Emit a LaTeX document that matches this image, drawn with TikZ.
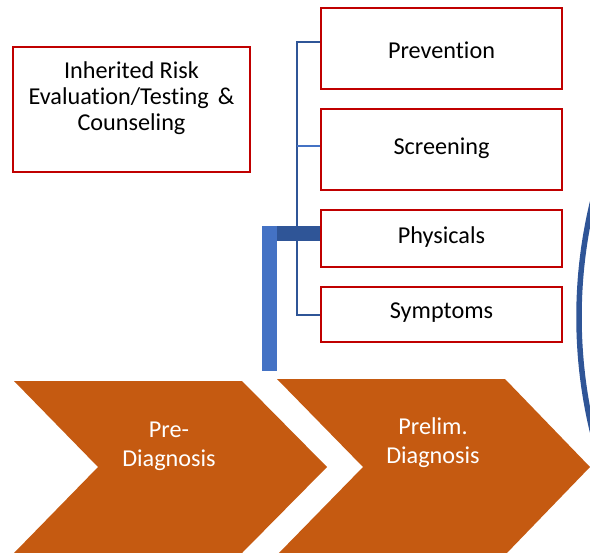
\documentclass[tikz,border=0pt]{standalone}
\usepackage{fontspec}
\setmainfont{Carlito}[Ligatures=NoCommon]
\definecolor{boxred}{HTML}{C00000}
\definecolor{chevorange}{HTML}{C55A11}
\definecolor{darkblue}{HTML}{2F5597}
\definecolor{lightblue}{HTML}{4472C4}
\tikzset{
  redbox/.style={draw=boxred, line width=2.5bp, fill=white, inner sep=0pt, minimum width=241bp},
  boxtext/.style={font=\fontsize{24.3}{26}\selectfont, align=center, text=black, inner sep=0pt},
  chevtext/.style={font=\fontsize{24.3}{29}\selectfont, align=center, text=white, inner sep=0pt},
  chevron/.style={fill=chevorange, draw=none},
  branch/.style={draw=darkblue, line width=2bp},
  branchlight/.style={draw=lightblue, line width=1.5bp},
}
\begin{document}
\begin{tikzpicture}[x=1bp, y=-1bp]
\useasboundingbox (0,0) rectangle (590,553);
% arc on the right
\begin{scope}
  \clip (0,0) rectangle (590,553);
  \draw[darkblue, line width=5.5bp] (1068,317) circle (489);
\end{scope}
% chevrons
\fill[chevron] (14,381) -- (242,381) -- (327,467) -- (242,553) -- (14,553) -- (98,467) -- cycle;
\fill[chevron] (277,379) -- (505,379) -- (590,467) -- (505,555) -- (277,555) -- (363,467) -- cycle;
\node[chevtext] (pre) at (169,446) {Pre-\\Diagnosis};
\node[chevtext] (prelim) at (433,443) {Prelim.\\Diagnosis};
% inherited risk box
\node[redbox, minimum width=237bp, minimum height=125bp] (risk) at (131.5,109.5) {};
\node[boxtext] (risktext) at (131.5,98) {Inherited Risk\\Evaluation/Testing\hspace{9bp}\&\\Counseling};
% right boxes
\node[redbox, minimum height=81bp] (prev) at (441.5,48.5) {};
\node[boxtext] at (441.5,50) {Prevention};
\node[redbox, minimum height=81bp] (scr) at (441.5,149.5) {};
\node[boxtext] at (441.5,148) {Screening};
\node[redbox, minimum height=57bp] (phys) at (441.5,238.5) {};
\node[boxtext] at (441.5,237) {Physicals};
\node[redbox, minimum height=55bp] (symp) at (441.5,314.5) {};
\node[boxtext] at (441.5,313) {Symptoms};
% tree connectors
\draw[branch] ([yshift=6.5bp]prev.west) -- ++(-23,0) |- (symp.west);
\draw[branchlight] ([yshift=3.5bp]scr.west) -- ++(-23,0);
% thick connector to physicals
\fill[darkblue] (277,226) rectangle ([yshift=-2.5bp]phys.west);
\fill[lightblue] (262,226) rectangle (277,371);
\end{tikzpicture}
\end{document}
